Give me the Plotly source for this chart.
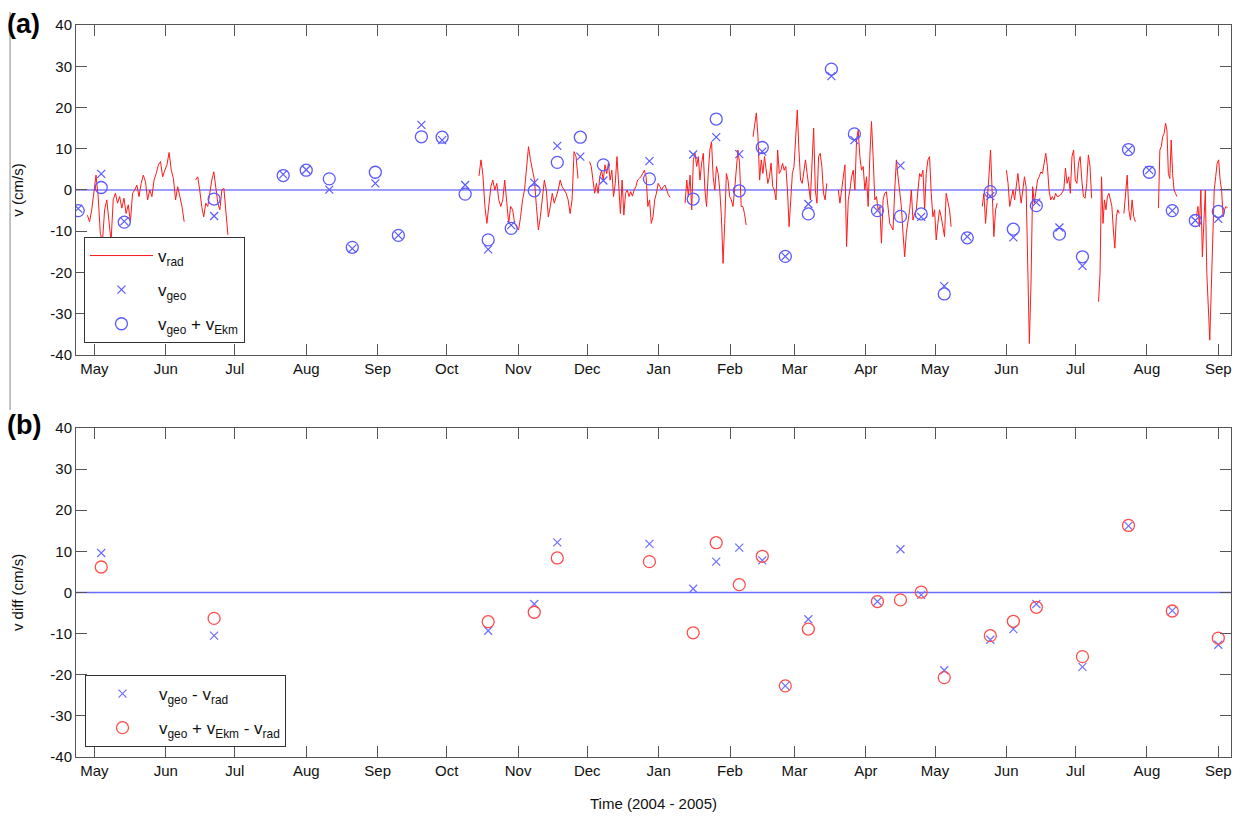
import plotly.graph_objects as go
import pandas as pd

# ---------------- data ----------------
cycle_dates = ["2004-04-24", "2004-05-04", "2004-05-14", "2004-06-22", "2004-07-22", "2004-08-01",
               "2004-08-11", "2004-08-21", "2004-08-31", "2004-09-10", "2004-09-20", "2004-09-29",
               "2004-10-09", "2004-10-19", "2004-10-29", "2004-11-08", "2004-11-18", "2004-11-28",
               "2004-12-08", "2004-12-28", "2005-01-16", "2005-01-26", "2005-02-05", "2005-02-15",
               "2005-02-25", "2005-03-07", "2005-03-17", "2005-03-27", "2005-04-06", "2005-04-16",
               "2005-04-25", "2005-05-05", "2005-05-15", "2005-05-25", "2005-06-04", "2005-06-14",
               "2005-06-24", "2005-07-04", "2005-07-24", "2005-08-02", "2005-08-12", "2005-08-22",
               "2005-09-01"]
v_geo = [-4.5, 3.9, -7.6, -6.3, 3.8, 4.9, 0.1, -14.2, 1.6, -11.0, 15.8, 12.1, 1.2, -14.4, -8.5,
         1.8, 10.7, 8.1, 2.3, 7.0, 8.6, 12.8, 8.7, 9.3, -16.1, -3.4, 27.6, 12.1, -5.0, 5.9, -6.5,
         -23.3, -11.3, -1.5, -11.5, -3.0, -9.1, -18.4, 9.8, 4.8, -5.0, -7.4, -7.0]
v_geo_ekm = [-5.0, 0.6, -7.8, -2.2, 3.5, 4.8, 2.7, -13.9, 4.3, -11.0, 12.9, 12.8, -1.0, -12.1, -9.3,
             -0.2, 6.7, 12.8, 6.1, 2.7, -2.2, 17.2, -0.2, 10.3, -16.1, -5.8, 29.3, 13.6, -5.0, -6.4,
             -5.8, -25.2, -11.6, -0.4, -9.5, -3.8, -10.7, -16.2, 9.8, 4.3, -5.0, -7.4, -5.2]

diff_dates = ["2004-05-04", "2004-06-22", "2004-10-19", "2004-11-08", "2004-11-18", "2004-12-28",
              "2005-01-16", "2005-01-26", "2005-02-05", "2005-02-15", "2005-02-25", "2005-03-07",
              "2005-04-06", "2005-04-16", "2005-04-25", "2005-05-05", "2005-05-25", "2005-06-04",
              "2005-06-14", "2005-07-04", "2005-07-24", "2005-08-12", "2005-09-01"]
diff_geo = [9.6, -10.5, -9.3, -2.8, 12.2, 11.8, 0.9, 7.5, 10.9, 7.8, -22.7, -6.5, -2.2, 10.5, -0.6,
            -18.9, -11.5, -8.9, -2.8, -18.1, 16.2, -4.4, -12.7]
diff_geo_ekm = [6.2, -6.3, -7.1, -4.8, 8.4, 7.5, -9.8, 12.1, 1.9, 8.8, -22.7, -8.9, -2.2, -1.8, 0.1,
                -20.7, -10.5, -7.0, -3.6, -15.6, 16.3, -4.5, -11.1]

# radar velocity: continuous segments (start, end, evenly sampled values)
rad_seg_start = ["2004-04-28", "2004-06-14", "2004-10-15", "2004-12-02", "2005-01-12 12:00",
                 "2005-02-11", "2005-03-20", "2005-05-21 12:00", "2005-06-01", "2005-07-11",
                 "2005-07-22", "2005-08-06", "2005-08-22 12:00"]
rad_seg_end = ["2004-06-09", "2004-06-28", "2004-11-27", "2005-01-06", "2005-02-08",
               "2005-03-15", "2005-05-08", "2005-05-28", "2005-07-08", "2005-07-20",
               "2005-07-27", "2005-08-14", "2005-09-05"]
rad_seg_values = [
    [-6.1, -7.7, -4.8, -0.8, 3.6, -1.6, -10.5, -12.5, -4.8, -2.4, -7.7, -12.5, -2.4, -0.8, -3.2,
     -1.6, -4.4, -2.0, -5.7, -3.6, -7.7, -0.8, 0.0, 1.2, -1.6, 1.6, 3.6, 2.0, -2.4, 0.0, -1.6, 2.4,
     4.0, 6.1, 6.9, 3.2, 4.8, 6.1, 9.1, 4.8, 2.8, -2.4, 0.8, -1.6, -4.0, -7.7],
    [2.4, 3.2, 0.0, -4.0, -6.5, -3.2, -4.0, -0.8, 2.4, 4.4, 0.8, -3.2, -4.8, 0.0, 0.4, -6.5, -10.9],
    [3.4, 7.3, 3.6, -4.0, -8.1, -4.0, 0.8, 2.4, 0.0, 1.6, -2.4, -4.0, -2.4, 2.4, -2.4, -8.1, -4.0,
     -4.8, -8.1, -8.9, -9.7, -6.5, -2.4, 0.0, 5.7, 10.5, 7.3, 4.8, 2.4, -4.0, -9.7, -6.5, -2.4, 2.4,
     0.0, -6.5, -4.0, -0.8, -3.2, -1.6, 0.0, 2.4, 0.8, 0.0, -0.8, -2.4, -5.7, -2.4, 9.3, 8.1, 2.8],
    [6.9, 5.7, 2.4, -0.8, 1.6, -0.8, 3.2, 4.8, 2.4, 6.1, 4.0, 6.5, 2.4, 4.8, -1.6, 1.6, 8.1, 2.4,
     -5.7, 2.4, -6.1, -0.8, 0.0, -1.6, -0.4, -1.5, 0.0, 0.8, 2.4, 2.8, 3.2, 4.0, 4.8, 3.1, -4.0,
     -2.4, -8.1, -6.5, -2.4, -0.8, 1.6, 0.8, 0.0, 0.8, 1.2, 0.0, -1.2, -1.8],
    [-3.2, 2.4, -1.6, 3.6, -4.8, 7.3, 8.9, 5.7, 8.1, 2.4, 6.5, 8.9, 0.0, -4.0, 4.0, 9.7, 11.7, 3.2,
     0.0, 5.7, 4.0, 0.0, -6.5, -17.8, -8.1, 4.0, 2.4, -1.6, -2.4, -4.0, 0.0, 4.0, 9.7, 6.5, -4.0,
     -4.0, -5.7, -8.5],
    [12.9, 16.2, 18.7, 12.9, 2.4, 7.3, 4.0, 8.1, 4.0, 1.6, 3.2, 6.5, 0.8, 0.0, -2.4, 9.7, 4.0, 4.8,
     6.5, 4.8, 5.7, 0.0, -8.9, -2.4, 4.0, 5.7, 12.1, 19.4, 9.7, 2.4, 1.6, 4.0, 7.3, 4.0, 0.8, -2.4,
     6.5, 15.0, 0.0, -3.2, 8.1, 8.9, 5.7, -0.8, -2.4, 1.6],
    [0.0, -3.2, 0.0, 3.2, 6.1, -13.7, -2.4, 0.0, 3.2, 4.8, 0.0, 12.1, 14.5, 8.1, 4.8, 5.7, 0.0, 3.2,
     -4.0, 8.1, 16.6, 8.1, -2.4, -1.6, -4.8, -4.0, -12.9, -2.4, -0.8, -0.4, -4.0, -8.1, -8.9, -9.7,
     0.0, 7.3, 3.2, 0.0, -4.0, -10.5, -16.2, -10.5, -8.1, -4.8, 0.0, -7.3, -5.7, -4.8, 0.0, 4.0,
     3.2, 4.8, -4.8, 4.0, 7.3, 8.1, -0.8, -6.5, -4.8, -12.1, -8.1, -4.8, -6.5, -8.9, -11.3, -0.8,
     -3.2, -4.8, -8.9],
    [-4.0, -0.8, -8.1, -3.2, 3.2, 9.7, -1.6, -11.3, -4.8, -3.2],
    [4.8, 1.6, -4.0, -1.6, 0.0, -2.4, 1.6, 4.0, 0.0, -3.2, 0.0, 3.2, 0.8, -22.6, -37.2, -22.6, 0.8,
     -3.2, 0.0, 2.4, 3.2, 4.4, 4.0, 6.1, 8.9, 5.7, 0.0, -2.4, -1.6, -2.4, -0.8, -1.6, -1.5, -1.2,
     -0.4, 0.0, 5.3, 1.6, 3.2, -0.8, 8.1, 9.7, 2.4, 1.6, 6.5, 8.1, 2.4, -1.6, -2.0, 1.6, 8.5, 5.7,
     -2.0],
    [-27.1, -20.2, 3.2, -8.1, -2.4, -4.8, -1.6, -0.8, -2.4, -4.0, -9.7, -14.1, -6.5, -4.8, -5.7],
    [-5.7, -1.6, 3.6, -4.8, -7.3, -2.4, -6.5, -7.7],
    [-4.4, 9.7, 10.5, 12.9, 13.7, 16.2, 14.5, 4.0, 2.8, 12.1, 4.0, 0.0, -0.8, -1.6],
    [-6.5, -4.0, -8.9, 0.0, -16.2, -8.1, 0.0, -20.2, -28.3, -36.4, -24.2, -12.1, 0.0, 3.2, 6.5, 7.3,
     2.4, 0.0, -6.5, -4.8, -4.0, -4.4],
]

y_ticks = [40, 30, 20, 10, 0, -10, -20, -30, -40]
y_ticktext = ["40", "30", "20", "10", "0", "-10", "-20", "-30", "-40"]
x_range = ["2004-04-23 01:00", "2005-09-06 12:00"]

# --------------- build radar series with gaps ---------------
rad_x, rad_y = [], []
for s, e, vals in zip(rad_seg_start, rad_seg_end, rad_seg_values):
    ts = pd.date_range(s, e, periods=len(vals))
    rad_x.extend(list(ts))
    rad_y.extend(vals)
    rad_x.append(None)
    rad_y.append(None)

FONT = "Liberation Sans, Arial, Helvetica, sans-serif"
BLUE = "#5a5aff"
BLUE2 = "#6e6eff"
RED = "#ff1a1a"
RED2 = "#ff4d4d"

fig = go.Figure()

fig.add_trace(go.Scatter(x=rad_x, y=rad_y, mode="lines", line=dict(color=RED, width=1),
                         name="v<sub>rad</sub>", legendgroup="a1", xaxis="x", yaxis="y",
                         connectgaps=False, legend="legend"))
fig.add_trace(go.Scatter(x=cycle_dates, y=v_geo, mode="markers",
                         marker=dict(symbol="x-thin-open", size=8, line=dict(color=BLUE, width=1.2), color=BLUE),
                         name="v<sub>geo</sub>", legendgroup="a2", xaxis="x", yaxis="y", legend="legend"))
fig.add_trace(go.Scatter(x=cycle_dates, y=v_geo_ekm, mode="markers",
                         marker=dict(symbol="circle-open", size=12, line=dict(color=BLUE, width=1.3), color=BLUE),
                         name="v<sub>geo</sub> + v<sub>Ekm</sub>", legendgroup="a3", xaxis="x", yaxis="y",
                         legend="legend"))

fig.add_trace(go.Scatter(x=diff_dates, y=diff_geo, mode="markers",
                         marker=dict(symbol="x-thin-open", size=8, line=dict(color=BLUE2, width=1.2), color=BLUE2),
                         name="v<sub>geo</sub> - v<sub>rad</sub>", legendgroup="b1", xaxis="x2", yaxis="y2",
                         legend="legend2"))
fig.add_trace(go.Scatter(x=diff_dates, y=diff_geo_ekm, mode="markers",
                         marker=dict(symbol="circle-open", size=12, line=dict(color=RED2, width=1.3), color=RED2),
                         name="v<sub>geo</sub> + v<sub>Ekm</sub> - v<sub>rad</sub>", legendgroup="b2",
                         xaxis="x2", yaxis="y2", legend="legend2"))

axis_common = dict(showline=True, mirror="ticks", linecolor="#555555", linewidth=1,
                   ticks="inside", ticklen=11, tickcolor="#555555", tickwidth=1,
                   showgrid=False, zeroline=False, automargin=False,
                   tickfont=dict(family=FONT, size=15, color="#111111"))

xaxis_common = dict(axis_common, type="date", range=x_range, dtick="M1", tick0="2004-05-01",
                    tickformat="%b", ticklabelmode="instant")
yaxis_common = dict(axis_common, range=[-40, 40], tickvals=y_ticks, ticktext=y_ticktext)

fig.update_layout(
    width=1241, height=818,
    margin=dict(l=76, r=10, t=25, b=61, autoexpand=False),
    paper_bgcolor="white", plot_bgcolor="white",
    showlegend=True,
    xaxis=dict(xaxis_common, anchor="y", domain=[0, 1]),
    yaxis=dict(yaxis_common, anchor="x", domain=[0.5492, 1],
               title=dict(text="v (cm/s)", font=dict(family=FONT, size=15, color="#111"), standoff=23)),
    xaxis2=dict(xaxis_common, anchor="y2", domain=[0, 1],
                title=dict(text="Time (2004 - 2005)", font=dict(family=FONT, size=15, color="#111"), standoff=20)),
    yaxis2=dict(yaxis_common, anchor="x2", domain=[0, 0.4495],
                title=dict(text="v diff (cm/s)", font=dict(family=FONT, size=15, color="#111"), standoff=23)),
    legend=dict(x=0.0069, y=0.7104, xanchor="left", yanchor="top", bgcolor="white",
                bordercolor="#333333", borderwidth=1, font=dict(family=FONT, size=17, color="#111"),
                tracegroupgap=9, itemwidth=63),
    legend2=dict(x=0.0078, y=0.112, xanchor="left", yanchor="top", bgcolor="white",
                 bordercolor="#333333", borderwidth=1, font=dict(family=FONT, size=17, color="#111"),
                 tracegroupgap=9, itemwidth=63),
)

# zero reference lines
fig.add_shape(type="line", xref="x domain", yref="y", x0=0, x1=1, y0=0, y1=0,
              line=dict(color="#3c3cff", width=1), layer="below")
fig.add_shape(type="line", xref="x2 domain", yref="y2", x0=0, x1=1, y0=0, y1=0,
              line=dict(color="#6b6bff", width=1.5), layer="below")

# panel border artifact at the far left
fig.add_shape(type="line", xref="paper", yref="paper", x0=-0.0571, x1=-0.0571, y0=1.0178, y1=0.474,
              line=dict(color="#8a8a8a", width=1))

# panel labels
fig.add_annotation(text="<b>(a)</b>", xref="paper", yref="paper", x=-0.0615, y=1.0014,
                   xanchor="left", yanchor="middle", showarrow=False,
                   font=dict(family=FONT, size=27, color="#000"))
fig.add_annotation(text="<b>(b)</b>", xref="paper", yref="paper", x=-0.0615, y=0.4536,
                   xanchor="left", yanchor="middle", showarrow=False,
                   font=dict(family=FONT, size=27, color="#000"))

fig.write_html("out.html", config={"displayModeBar": False},
               post_script="document.body.style.margin='0px';")
